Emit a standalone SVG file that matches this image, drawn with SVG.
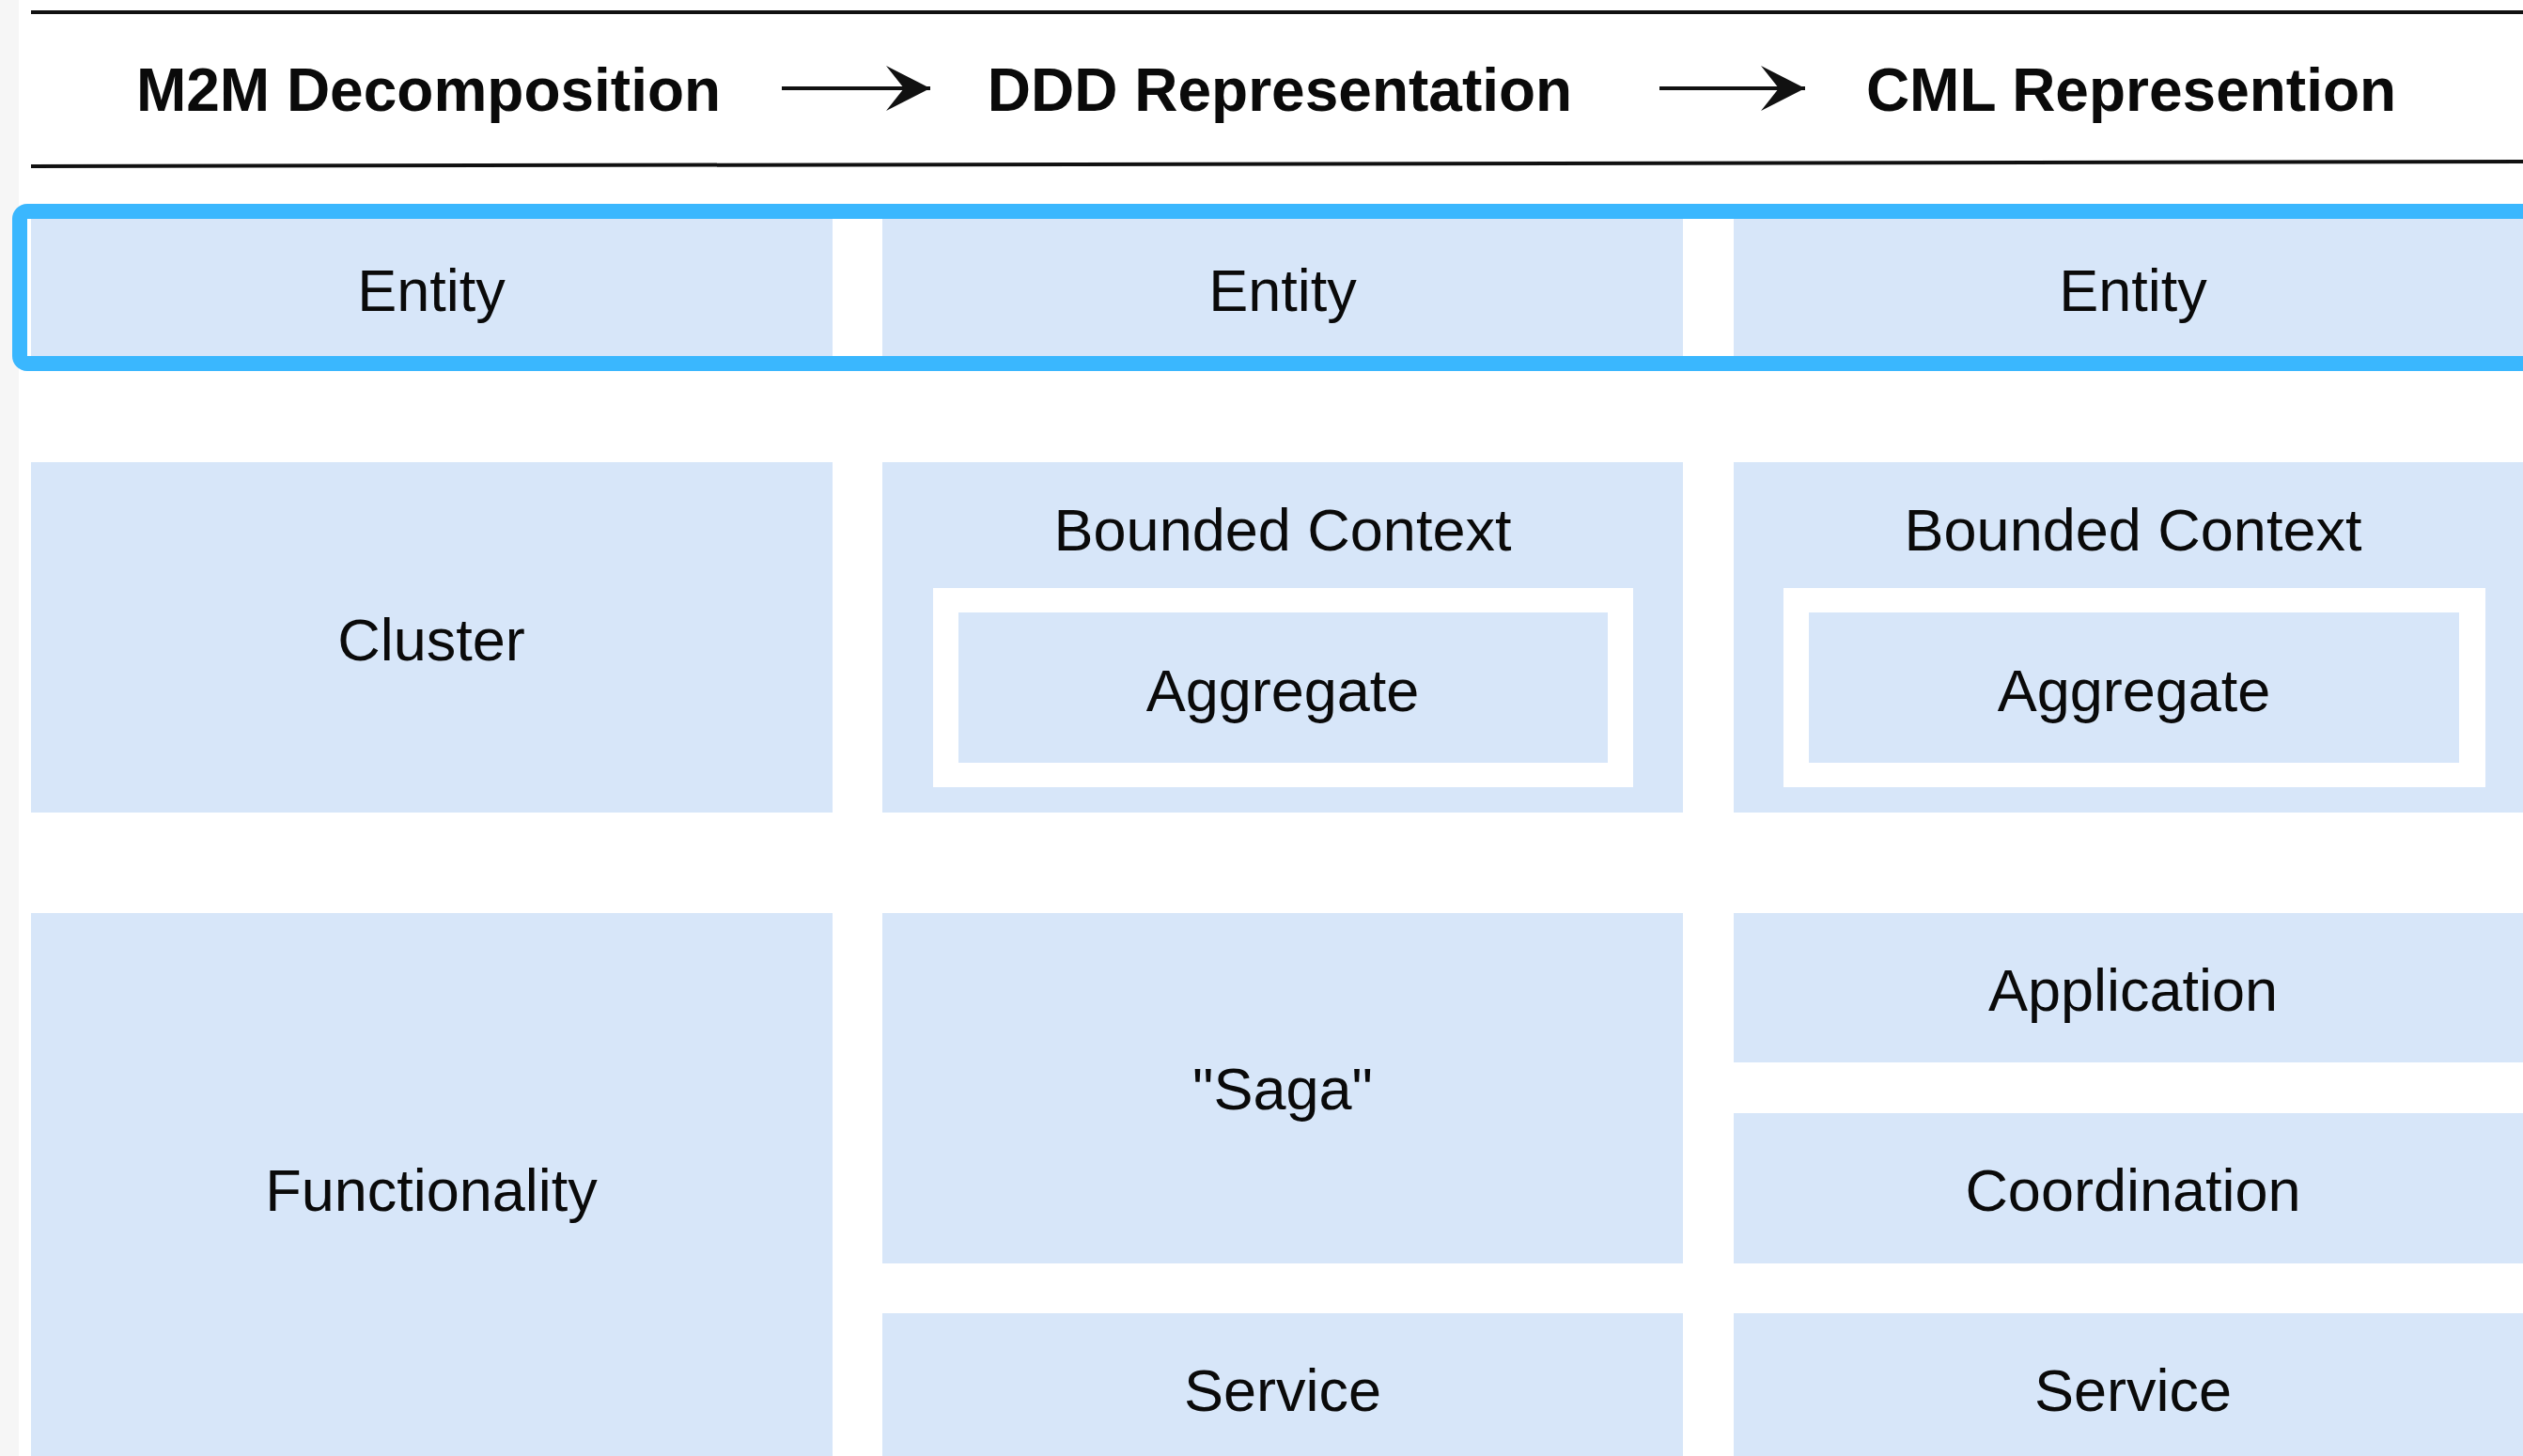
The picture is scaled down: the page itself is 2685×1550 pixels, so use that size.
<svg xmlns="http://www.w3.org/2000/svg" width="2685" height="1550" viewBox="0 0 2685 1550">
  <style>
    .cell { fill: #D7E6F9; }
    .frame { fill: #FFFFFF; }
    .lbl { font-family: "Liberation Sans", Arial, Helvetica, sans-serif; font-size: 63px; fill: #0A0A0A; text-anchor: middle; }
    .hdr { font-family: "Liberation Sans", Arial, Helvetica, sans-serif; font-size: 64px; font-weight: bold; fill: #0A0A0A; text-anchor: middle; }
    .rule { stroke: #111111; stroke-width: 4; fill: none; }
    .conn { stroke: #111111; stroke-width: 4; fill: none; }
  </style>
  <defs>
    <marker id="arrow" markerUnits="userSpaceOnUse" markerWidth="50" markerHeight="52" refX="48" refY="26" orient="auto">
      <path d="M48,26 L1,2 L20,26 L1,50 Z" fill="#111111"/>
    </marker>
  </defs>

  <rect x="0" y="0" width="2685" height="1550" fill="#FFFFFF"/>
  <rect x="0" y="0" width="20" height="1550" fill="#F6F6F6"/>

  <g id="header">
    <line class="rule" x1="33" y1="13" x2="2685" y2="13"/>
    <line class="rule" x1="33" y1="177" x2="2685" y2="172"/>
    <text class="hdr" x="456" y="118">M2M Decomposition</text>
    <text class="hdr" x="1362" y="118">DDD Representation</text>
    <text class="hdr" x="2268" y="118">CML Represention</text>
  </g>

  <g id="connectors">
    <line class="conn" x1="832" y1="94" x2="990" y2="94" marker-end="url(#arrow)"/>
    <line class="conn" x1="1766" y1="94" x2="1921" y2="94" marker-end="url(#arrow)"/>
  </g>

  <g id="entity-m2m">
    <rect class="cell" x="33" y="228" width="853" height="158"/>
    <text class="lbl" x="459" y="331">Entity</text>
  </g>
  <g id="entity-ddd">
    <rect class="cell" x="939" y="228" width="852" height="158"/>
    <text class="lbl" x="1365" y="331">Entity</text>
  </g>
  <g id="entity-cml">
    <rect class="cell" x="1845" y="228" width="853" height="158"/>
    <text class="lbl" x="2270" y="331">Entity</text>
  </g>
  <g id="entity-highlight">
    <rect x="21" y="225" width="2700" height="162" rx="8" ry="8" fill="none" stroke="#3AB7FE" stroke-width="16"/>
  </g>

  <g id="cluster">
    <rect class="cell" x="33" y="492" width="853" height="373"/>
    <text class="lbl" x="459" y="703">Cluster</text>
  </g>
  <g id="bounded-context-ddd">
    <rect class="cell" x="939" y="492" width="852" height="373"/>
    <text class="lbl" x="1365" y="586">Bounded Context</text>
    <rect class="frame" x="993" y="626" width="745" height="212"/>
    <g id="aggregate-ddd">
      <rect class="cell" x="1020" y="652" width="691" height="160"/>
      <text class="lbl" x="1365" y="757">Aggregate</text>
    </g>
  </g>
  <g id="bounded-context-cml">
    <rect class="cell" x="1845" y="492" width="853" height="373"/>
    <text class="lbl" x="2270" y="586">Bounded Context</text>
    <rect class="frame" x="1898" y="626" width="747" height="212"/>
    <g id="aggregate-cml">
      <rect class="cell" x="1925" y="652" width="692" height="160"/>
      <text class="lbl" x="2271" y="757">Aggregate</text>
    </g>
  </g>

  <g id="functionality">
    <rect class="cell" x="33" y="972" width="853" height="590"/>
    <text class="lbl" x="459" y="1289">Functionality</text>
  </g>
  <g id="saga">
    <rect class="cell" x="939" y="972" width="852" height="373"/>
    <text class="lbl" x="1365" y="1181">"Saga"</text>
  </g>
  <g id="service-ddd">
    <rect class="cell" x="939" y="1398" width="852" height="164"/>
    <text class="lbl" x="1365" y="1502">Service</text>
  </g>
  <g id="application">
    <rect class="cell" x="1845" y="972" width="853" height="159"/>
    <text class="lbl" x="2270" y="1076">Application</text>
  </g>
  <g id="coordination">
    <rect class="cell" x="1845" y="1185" width="853" height="160"/>
    <text class="lbl" x="2270" y="1289">Coordination</text>
  </g>
  <g id="service-cml">
    <rect class="cell" x="1845" y="1398" width="853" height="164"/>
    <text class="lbl" x="2270" y="1502">Service</text>
  </g>
</svg>
